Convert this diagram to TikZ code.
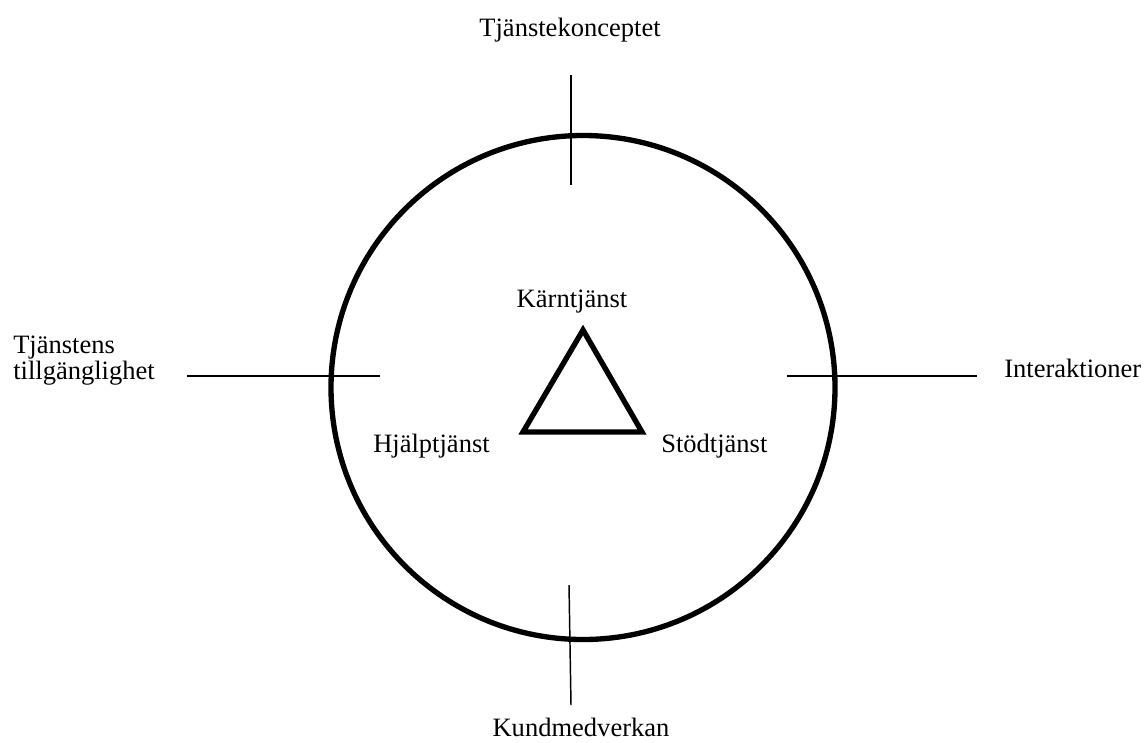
\documentclass[tikz,border=0pt]{standalone}
\usepackage{fontspec}
\setmainfont{Liberation Serif}
\begin{document}
\begin{tikzpicture}[x=0.75pt,y=-0.75pt,
  lbl/.style={inner sep=0pt,font=\fontsize{19.9pt}{18pt}\selectfont},
  thick line/.style={line width=4pt},
  thin line/.style={line width=1.1pt}]
\useasboundingbox (0,0) rectangle (1144,742);
% circle
\node[draw,circle,thick line,minimum size=504*0.75pt,inner sep=0pt] (circ) at (583,387.5) {};
% triangle
\coordinate (ta) at (583,330);
\coordinate (tl) at (523,432);
\coordinate (tr) at (642,432);
\draw[thick line,line join=miter] (ta) -- (tl) -- (tr) -- cycle;
% crossing lines
\coordinate (u1) at (571,75);  \coordinate (u2) at (571,185);
\coordinate (d1) at (569,585); \coordinate (d2) at (571,705);
\coordinate (l1) at (187,376); \coordinate (l2) at (380,376);
\coordinate (r1) at (787,376); \coordinate (r2) at (977,376);
\draw[thin line] (u1) -- (u2);
\draw[thin line] (d1) -- (d2);
\draw[thin line] (l1) -- (l2);
\draw[thin line] (r1) -- (r2);
% labels
\node[lbl,anchor=base] (top) at (570,37) {Tjänstekonceptet};
\node[lbl,anchor=base] (bot) at (581,736) {Kundmedverkan};
\node[lbl,anchor=base] (karn) at (572,307) {Kärntjänst};
\node[lbl,anchor=base west] (hjalp) at (373,452) {Hjälptjänst};
\node[lbl,anchor=base west] (stod) at (661,452) {Stödtjänst};
\node[lbl,anchor=base west] (inter) at (1004,377) {Interaktioner};
\node[lbl,anchor=base west,align=left] (tillg) at (13,379) {Tjänstens\\tillgänglighet};
\end{tikzpicture}
\end{document}
